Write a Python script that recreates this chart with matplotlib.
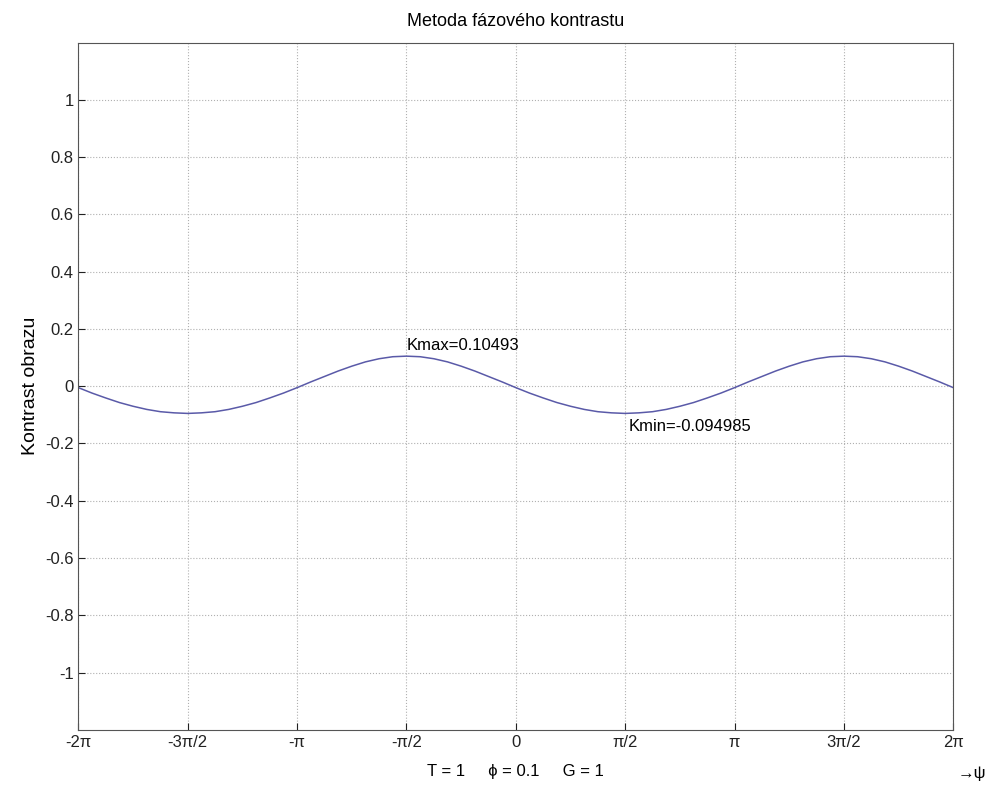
import numpy as np
import matplotlib
matplotlib.use('Agg')
import matplotlib.pyplot as plt

plt.rcParams['font.family'] = ['Liberation Sans', 'DejaVu Sans']

# contrast, psi from -2pi to 2pi in steps of pi/16
kontrast = [-0.005, -0.024, -0.041, -0.057, -0.070, -0.081, -0.089, -0.093,
            -0.095, -0.093, -0.089, -0.081, -0.070, -0.057, -0.041, -0.024,
            -0.005, 0.015, 0.034, 0.053, 0.070, 0.085, 0.096, 0.103,
            0.105, 0.103, 0.096, 0.085, 0.070, 0.053, 0.034, 0.015,
            -0.005, -0.024, -0.041, -0.057, -0.070, -0.081, -0.089, -0.093,
            -0.095, -0.093, -0.089, -0.081, -0.070, -0.057, -0.041, -0.024,
            -0.005, 0.015, 0.034, 0.053, 0.070, 0.085, 0.096, 0.103,
            0.105, 0.103, 0.096, 0.085, 0.070, 0.053, 0.034, 0.015,
            -0.005]
psi = np.linspace(-2 * np.pi, 2 * np.pi, len(kontrast))

x_ticks = np.arange(-4, 5) * np.pi / 2
x_labels = ['-2\u03c0', '-3\u03c0/2', '-\u03c0', '-\u03c0/2', '0',
            '\u03c0/2', '\u03c0', '3\u03c0/2', '2\u03c0']
y_ticks = np.round(np.arange(-1, 1.01, 0.2), 1)
y_labels = ['-1', '-0.8', '-0.6', '-0.4', '-0.2', '0', '0.2', '0.4', '0.6', '0.8', '1']

kmax = 0.10493
kmin = -0.094985

fig = plt.figure(figsize=(9.92, 7.89), dpi=100)
ax = fig.add_axes([0.079, 0.075, 0.882, 0.871])

ax.plot(psi, kontrast, color='#5a5aa8', linewidth=1.1)

ax.set_xlim(-2 * np.pi, 2 * np.pi)
ax.set_ylim(-1.2, 1.2)
ax.set_xticks(x_ticks)
ax.set_xticklabels(x_labels)
ax.set_yticks(y_ticks)
ax.set_yticklabels(y_labels)
ax.tick_params(direction='in', labelsize=12, length=5, colors='#222222')
ax.grid(True, linestyle=':', color='#b0b0b0', linewidth=0.8)
for s in ax.spines.values():
    s.set_color('#555555')

ax.text(-np.pi / 2, 0.125, 'Kmax=%.5g' % kmax, fontsize=12)
ax.text(np.pi / 2 + 0.05, -0.115, 'Kmin=%.5g' % kmin, fontsize=12, va='top')

ax.set_title('Metoda f\u00e1zov\u00e9ho kontrastu', fontsize=13, pad=12)
ax.set_ylabel('Kontrast obrazu', fontsize=14, labelpad=4)
ax.set_xlabel('T = 1     \u03d5 = 0.1     G = 1', fontsize=12, labelpad=10)
fig.text(0.965, 0.02, '\u2192\u03c8', fontsize=12, ha='left', va='center')

fig.savefig('out.png')
